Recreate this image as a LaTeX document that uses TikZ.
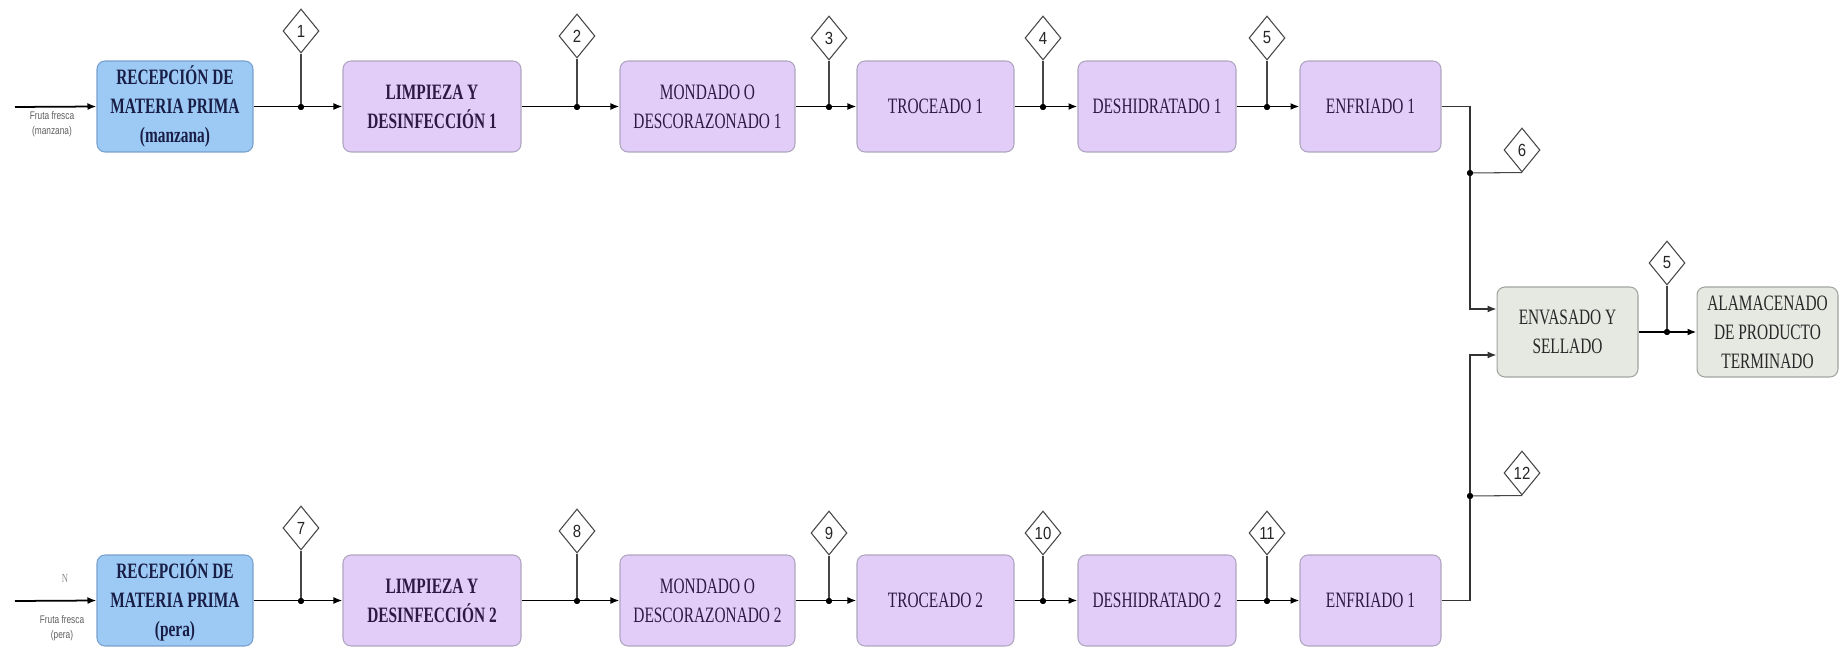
\documentclass[tikz,border=0pt]{standalone}
\usepackage{fontspec}
\setmainfont{Liberation Serif}
\newfontfamily\boxfont[FakeStretch=0.7]{Liberation Serif}
\newfontfamily\lblfont[FakeStretch=0.75]{Liberation Sans}
\newfontfamily\numfont[FakeStretch=0.85]{Liberation Sans}
\usetikzlibrary{shapes.geometric,arrows.meta}
\definecolor{bluefill}{RGB}{157,202,245}
\definecolor{blueline}{RGB}{120,160,205}
\definecolor{bluetext}{RGB}{25,30,70}
\definecolor{purfill}{RGB}{225,205,248}
\definecolor{purline}{RGB}{175,165,190}
\definecolor{purtext}{RGB}{45,25,65}
\definecolor{grayfill}{RGB}{230,232,226}
\definecolor{grayline}{RGB}{160,165,160}
\definecolor{graytext}{RGB}{40,40,40}
\definecolor{taggray}{RGB}{70,70,70}
\definecolor{lbltext}{RGB}{95,95,95}
\tikzset{
  base/.style={rounded corners=0.16cm, inner sep=0pt, align=center, line width=0.6pt,
    font=\boxfont\fontsize{12.5}{16.5}\selectfont},
  bluebox/.style={base, fill=bluefill, draw=blueline, text=bluetext,
    font=\boxfont\bfseries\fontsize{12.5}{16.5}\selectfont},
  purbold/.style={base, fill=purfill, draw=purline, text=purtext,
    font=\boxfont\bfseries\fontsize{12.5}{16.5}\selectfont},
  purbox/.style={base, fill=purfill, draw=purline, text=purtext},
  graybox/.style={base, fill=grayfill, draw=grayline, text=graytext},
  flow/.style={draw=black, line width=1pt, -{Latex[length=0.18cm,width=0.14cm]}},
  merge/.style={draw=black!80, line width=0.7pt, -{Latex[length=0.18cm,width=0.14cm]}},
  stem/.style={draw=taggray, line width=0.6pt},
  tag/.style={diamond, draw=taggray, fill=white, line width=0.6pt, minimum width=0.72cm,
    minimum height=0.88cm, inner sep=0pt, text=black!85,
    font=\numfont\fontsize{10}{12}\selectfont},
  jdot/.style={circle, fill=black, inner sep=0pt, minimum size=0.12cm},
  lbl/.style={align=center, text=lbltext, inner sep=0pt,
    font=\lblfont\fontsize{6.3}{8.5}\selectfont},
}
\begin{document}
\begin{tikzpicture}[x=0.02cm,y=-0.02cm]
\useasboundingbox (0,0) rectangle (1847,648);
\fill[white] (0,0) rectangle (1847,648);

% ---------- top row ----------
\node[bluebox, minimum width=3.12cm, minimum height=1.82cm] (R1) at (175,106.5) {RECEPCIÓN DE\\MATERIA PRIMA\\(manzana)};
\node[purbold, minimum width=3.56cm, minimum height=1.82cm] (L1) at (432,106.5) {LIMPIEZA Y\\DESINFECCIÓN 1};
\node[purbox, minimum width=3.5cm, minimum height=1.82cm] (M1) at (707.5,106.5) {MONDADO O\\DESCORAZONADO 1};
\node[purbox, minimum width=3.14cm, minimum height=1.82cm] (T1) at (935.5,106.5) {TROCEADO 1};
\node[purbox, minimum width=3.16cm, minimum height=1.82cm] (D1) at (1157,106.5) {DESHIDRATADO 1};
\node[purbox, minimum width=2.82cm, minimum height=1.82cm] (E1) at (1370.5,106.5) {ENFRIADO 1};

% ---------- bottom row ----------
\node[bluebox, minimum width=3.12cm, minimum height=1.82cm] (R2) at (175,600.5) {RECEPCIÓN DE\\MATERIA PRIMA\\(pera)};
\node[purbold, minimum width=3.56cm, minimum height=1.82cm] (L2) at (432,600.5) {LIMPIEZA Y\\DESINFECCIÓN 2};
\node[purbox, minimum width=3.5cm, minimum height=1.82cm] (M2) at (707.5,600.5) {MONDADO O\\DESCORAZONADO 2};
\node[purbox, minimum width=3.14cm, minimum height=1.82cm] (T2) at (935.5,600.5) {TROCEADO 2};
\node[purbox, minimum width=3.16cm, minimum height=1.82cm] (D2) at (1157,600.5) {DESHIDRATADO 2};
\node[purbox, minimum width=2.82cm, minimum height=1.82cm] (E2) at (1370.5,600.5) {ENFRIADO 1};

% ---------- right part ----------
\node[graybox, minimum width=2.82cm, minimum height=1.8cm] (ENV) at (1567.5,332) {ENVASADO Y\\SELLADO};
\node[graybox, minimum width=2.82cm, minimum height=1.8cm] (ALM) at (1767.5,332) {ALAMACENADO\\DE PRODUCTO\\TERMINADO};

% ---------- inputs ----------
\coordinate (s1) at (15,107);
\coordinate (s2) at (15,601);
\node[lbl] (lab1) at (52,124.5) {Fruta fresca\\(manzana)};
\node[lbl] (lab2) at (62,628.5) {Fruta fresca\\(pera)};
\node[lbl, font=\boxfont\fontsize{7}{8}\selectfont, text=black!45] (nlab) at (65,578) {N};
\draw[flow] (s1) -- (R1.west);
\draw[flow] (s2) -- (R2.west);

% ---------- junctions ----------
\node[jdot] (j1) at (301,107) {};
\node[jdot] (j2) at (577,107) {};
\node[jdot] (j3) at (829,107) {};
\node[jdot] (j4) at (1043,107) {};
\node[jdot] (j5) at (1267,107) {};
\node[jdot] (j7) at (301,601) {};
\node[jdot] (j8) at (577,601) {};
\node[jdot] (j9) at (829,601) {};
\node[jdot] (j10) at (1043,601) {};
\node[jdot] (j11) at (1267,601) {};
\node[jdot] (j6) at (1470,173) {};
\node[jdot] (j12) at (1470,496) {};
\node[jdot] (j13) at (1667,332) {};

% ---------- tags ----------
\node[tag] (d1) at (301,31) {1};
\node[tag] (d2) at (577,36) {2};
\node[tag] (d3) at (829,38) {3};
\node[tag] (d4) at (1043,38) {4};
\node[tag] (d5) at (1267,38) {5};
\node[tag] (d7) at (301,528) {7};
\node[tag] (d8) at (577,531) {8};
\node[tag] (d9) at (829,533) {9};
\node[tag] (d10) at (1043,533) {10};
\node[tag] (d11) at (1267,533) {11};
\node[tag] (d6) at (1522,150) {6};
\node[tag] (d12) at (1522,473) {12};
\node[tag] (d13) at (1667,263) {5};

% ---------- main flow ----------
\draw[flow] (R1) -- (L1);
\draw[flow] (L1) -- (M1);
\draw[flow] (M1) -- (T1);
\draw[flow] (T1) -- (D1);
\draw[flow] (D1) -- (E1);
\draw[flow] (R2) -- (L2);
\draw[flow] (L2) -- (M2);
\draw[flow] (M2) -- (T2);
\draw[flow] (T2) -- (D2);
\draw[flow] (D2) -- (E2);
\draw[flow] (ENV) -- (ALM);

\coordinate (m1) at (1470,309);
\coordinate (m2) at (1470,355);
\draw[merge] (E1.east) -| (m1) -- (m1 -| ENV.west);
\draw[merge] (E2.east) -| (m2) -- (m2 -| ENV.west);

% ---------- stems ----------
\foreach \j/\d in {j1/d1,j2/d2,j3/d3,j4/d4,j5/d5,j7/d7,j8/d8,j9/d9,j10/d10,j11/d11,j13/d13}
  \draw[stem] (\j.center) -- (\d.south);
\draw[stem] (j6.center) -- (d6.south);
\draw[stem] (j12.center) -- (d12.south);

% redraw dots on top
\foreach \j in {j1,j2,j3,j4,j5,j6,j7,j8,j9,j10,j11,j12,j13}
  \fill[black] (\j) circle (0.06cm);
\end{tikzpicture}
\end{document}
